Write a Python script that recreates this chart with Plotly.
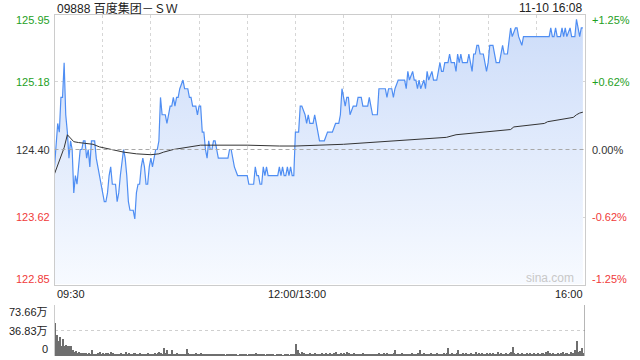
import plotly.graph_objects as go

title_text = "09888 百度集团－ＳＷ"
time_text = "11-10 16:08"
prev_close = 124.40
price_ticks = [125.95, 125.18, 124.40, 123.62, 122.85]
pct_ticks = ["+1.25%", "+0.62%", "0.00%", "-0.62%", "-1.25%"]
tick_colors = ["#1ea01e", "#1ea01e", "#333333", "#f03a3a", "#f03a3a"]
time_ticks = [0, 150, 330]
time_labels = ["09:30", "12:00/13:00", "16:00"]
vol_ticks = [73.66, 36.83, 0]
vol_labels = ["73.66万", "36.83万", "0"]

price_minutes = [0, 1, 2, 3, 4, 5, 6, 7, 8, 9, 10, 11, 12, 13, 14, 15, 16, 17, 18, 19,
                 20, 21, 22, 23, 25, 26, 27, 28, 30, 31, 32, 33, 34, 35, 36, 38, 39, 40, 41, 43,
                 44, 45, 46, 47, 49, 50, 51, 52, 53, 54, 55, 56, 57, 58, 59, 60, 61, 62, 63, 64,
                 65, 66, 67, 69, 70, 71, 72, 73, 74, 75, 76, 77, 78, 80, 81, 83, 84, 85, 86, 88,
                 89, 90, 91, 92, 93, 94, 95, 96, 97, 98, 99, 100, 101, 102, 108, 109, 110, 111, 112, 114,
                 120, 121, 124, 125, 126, 127, 128, 129, 130, 131, 132, 133, 139, 140, 141, 142, 143, 144, 145, 146,
                 147, 148, 149, 150, 152, 153, 154, 156, 157, 158, 159, 161, 162, 163, 164, 165, 168, 170, 173, 175,
                 177, 178, 179, 180, 181, 182, 183, 184, 186, 188, 189, 191, 192, 195, 196, 197, 198, 201, 202, 206,
                 207, 208, 210, 211, 212, 214, 218, 219, 220, 221, 223, 224, 225, 226, 227, 228, 230, 231, 232, 233,
                 235, 236, 238, 239, 240, 241, 242, 243, 245, 246, 247, 249, 250, 251, 252, 253, 254, 257, 258, 259,
                 260, 261, 262, 263, 264, 265, 267, 268, 269, 270, 271, 273, 274, 275, 277, 278, 279, 280, 282, 284,
                 285, 287, 288, 289, 291, 292, 308, 309, 310, 311, 312, 313, 315, 316, 317, 318, 319, 321, 322, 324,
                 325, 326, 327, 328, 329]
price_values = [124.2, 124.5, 124.7, 124.6, 125.0, 125.0, 125.4, 124.8, 124.6, 124.3, 124.5, 124.4, 123.9, 124.1, 124.0, 124.2, 124.4, 124.4, 124.5, 124.5,
                124.3, 124.4, 124.2, 124.5, 124.5, 124.3, 124.2, 124.1, 123.9, 123.8, 123.8, 123.9, 124.1, 124.2, 124.0, 124.0, 123.8, 123.9, 124.1, 124.4,
                124.3, 124.1, 123.8, 123.7, 123.7, 123.6, 123.9, 124.0, 124.0, 124.2, 124.3, 124.2, 124.0, 124.0, 124.2, 124.3, 124.2, 124.3, 124.4, 124.4,
                124.5, 125.0, 124.8, 124.8, 124.7, 124.8, 124.9, 124.9, 125.0, 124.9, 125.0, 125.0, 125.1, 125.2, 125.1, 125.1, 125.0, 125.0, 124.9, 124.9,
                124.8, 124.9, 124.9, 124.6, 124.6, 124.4, 124.3, 124.5, 124.4, 124.4, 124.5, 124.5, 124.4, 124.3, 124.3, 124.4, 124.4, 124.3, 124.2, 124.1,
                124.1, 124.0, 124.0, 124.2, 124.1, 124.1, 124.0, 124.0, 124.2, 124.1, 124.2, 124.1, 124.1, 124.2, 124.1, 124.2, 124.1, 124.1, 124.2, 124.1,
                124.2, 124.1, 124.1, 124.6, 124.6, 124.9, 124.9, 124.8, 124.7, 124.8, 124.7, 124.7, 124.8, 124.7, 124.6, 124.5, 124.5, 124.6, 124.6, 124.7,
                124.7, 124.8, 125.1, 125.0, 124.9, 125.0, 125.0, 124.8, 124.9, 124.9, 125.0, 125.0, 124.9, 124.9, 125.0, 124.9, 124.8, 124.8, 125.1, 125.1,
                125.0, 125.1, 125.1, 125.0, 125.1, 125.2, 125.2, 125.1, 125.3, 125.2, 125.3, 125.2, 125.2, 125.1, 125.2, 125.1, 125.2, 125.1, 125.3, 125.2,
                125.3, 125.2, 125.2, 125.3, 125.4, 125.3, 125.3, 125.4, 125.4, 125.5, 125.4, 125.4, 125.3, 125.5, 125.4, 125.5, 125.4, 125.4, 125.5, 125.4,
                125.3, 125.5, 125.5, 125.6, 125.6, 125.5, 125.5, 125.4, 125.3, 125.4, 125.6, 125.6, 125.5, 125.4, 125.4, 125.5, 125.6, 125.5, 125.5, 125.8,
                125.7, 125.8, 125.8, 125.7, 125.6, 125.7, 125.7, 125.8, 125.7, 125.7, 125.8, 125.7, 125.7, 125.8, 125.7, 125.8, 125.7, 125.8, 125.7, 125.7,
                125.9, 125.8, 125.7, 125.8, 125.8]

avg_minutes = [0, 3, 5, 6, 8, 10, 12, 15, 24, 28, 33, 37, 43, 51, 60, 65, 68, 74, 82, 87,
               91, 100, 120, 140, 150, 180, 203, 223, 244, 250, 269, 284, 286, 305, 307, 323, 325, 327, 329]
avg_values = [124.12, 124.26, 124.37, 124.42, 124.57, 124.53, 124.49, 124.48, 124.46, 124.43, 124.41, 124.39, 124.37, 124.35, 124.34, 124.35, 124.37, 124.40, 124.42, 124.44,
              124.45, 124.45, 124.45, 124.44, 124.44, 124.46, 124.49, 124.52, 124.54, 124.57, 124.60, 124.63, 124.66, 124.70, 124.72, 124.77, 124.80, 124.82, 124.83]

volume = [47, 30, 22, 28, 14, 25, 15, 16, 14, 15,
          15, 8, 6, 7, 5, 6, 5, 4, 5, 4,
          3, 4, 3, 8, 3, 2, 3, 4, 6, 3,
          4, 3, 5, 4, 3, 6, 4, 3, 2, 3,
          2, 4, 3, 2, 6, 3, 4, 2, 3, 5,
          4, 3, 2, 4, 3, 2, 3, 2, 4, 3,
          2, 3, 4, 3, 5, 6, 4, 3, 11, 4,
          9, 3, 2, 8, 3, 2, 4, 3, 2, 3,
          2, 3, 10, 4, 3, 2, 3, 2, 4, 3,
          2, 5, 3, 2, 3, 2, 2, 3, 2, 2,
          3, 2, 2, 3, 2, 2, 1, 2, 3, 2,
          2, 3, 2, 2, 1, 2, 2, 3, 2, 2,
          1, 2, 2, 3, 2, 4, 2, 2, 3, 2,
          2, 1, 2, 2, 3, 2, 2, 1, 2, 2,
          2, 2, 1, 2, 2, 2, 1, 2, 2, 3,
          17, 8, 5, 3, 6, 4, 3, 2, 3, 4,
          2, 3, 4, 2, 3, 2, 4, 3, 2, 5,
          3, 4, 2, 3, 5, 6, 3, 2, 4, 3,
          5, 3, 6, 4, 3, 2, 4, 3, 2, 3,
          2, 3, 4, 2, 3, 2, 3, 2, 2, 3,
          2, 3, 4, 3, 2, 4, 2, 5, 3, 2,
          3, 4, 8, 3, 2, 3, 4, 2, 3, 2,
          3, 2, 4, 2, 3, 2, 5, 9, 3, 2,
          4, 3, 2, 3, 5, 2, 3, 2, 4, 3,
          2, 3, 4, 2, 5, 12, 3, 4, 2, 3,
          4, 8, 3, 2, 5, 3, 4, 2, 3, 4,
          2, 3, 6, 3, 4, 2, 5, 3, 2, 4,
          3, 5, 2, 4, 3, 2, 6, 3, 4, 2,
          3, 5, 2, 4, 6, 13, 5, 3, 4, 2,
          3, 4, 2, 3, 4, 2, 5, 3, 4, 3,
          2, 4, 3, 5, 4, 3, 6, 7, 4, 3,
          4, 3, 2, 5, 3, 4, 6, 3, 5, 4,
          3, 6, 4, 5, 8, 21, 6, 7, 12, 5,
          73.66]
vol_minutes = list(range(len(volume)))

W, H = 640, 360
LEFT, RIGHT = 54.5, 584.5
MAIN_TOP, MAIN_BOT = 14.5, 284.5
VOL_TOP, VOL_BOT = 305.0, 356.0
FONT = "Liberation Sans, Arial, Noto Sans CJK SC, sans-serif"

def fx(px):
    return px / W

def fy(py):
    return 1 - py / H

fig = go.Figure()

# baseline for fill
fig.add_trace(go.Scatter(x=price_minutes, y=[price_ticks[-1]] * len(price_minutes),
                         mode="lines", line=dict(width=0, color="rgba(0,0,0,0)"),
                         hoverinfo="skip", showlegend=False, xaxis="x", yaxis="y"))
fig.add_trace(go.Scatter(x=price_minutes, y=price_values, mode="lines",
                         line=dict(color="#4f8ef3", width=1.2),
                         fill="tonexty",
                         fillgradient=dict(type="vertical", start=price_ticks[-1], stop=price_ticks[0],
                                           colorscale=[[0, "rgb(247,250,255)"], [1, "rgb(204,220,249)"]]),
                         showlegend=False, xaxis="x", yaxis="y"))
fig.add_trace(go.Scatter(x=avg_minutes, y=avg_values, mode="lines",
                         line=dict(color="#333333", width=1),
                         showlegend=False, xaxis="x", yaxis="y"))
fig.add_trace(go.Bar(x=vol_minutes, y=volume, width=0.62,
                     marker=dict(color="#6e6e6e", line=dict(width=0)),
                     showlegend=False, xaxis="x2", yaxis="y3"))

fig.update_layout(
    width=W, height=H, margin=dict(l=0, r=0, t=0, b=0),
    paper_bgcolor="white", plot_bgcolor="white",
    font=dict(family=FONT, size=11, color="#333333"),
    bargap=0,
    xaxis=dict(domain=[fx(LEFT), fx(RIGHT)], range=[0, 330], anchor="y",
               tickvals=list(range(30, 330, 30)), showticklabels=False, ticks="",
               showgrid=True, gridcolor="#d6d6d6", griddash="dot", gridwidth=1,
               showline=True, mirror=True, linecolor="#cccccc", linewidth=1, zeroline=False),
    yaxis=dict(domain=[fy(MAIN_BOT), fy(MAIN_TOP)], range=[price_ticks[-1] - 0.005, price_ticks[0] + 0.005],
               anchor="x", tickvals=[price_ticks[1], price_ticks[3]], showticklabels=False, ticks="",
               showgrid=True, gridcolor="#d6d6d6", griddash="dot", gridwidth=1,
               showline=True, mirror=True, linecolor="#cccccc", linewidth=1, zeroline=False),
    xaxis2=dict(domain=[fx(LEFT), fx(RIGHT)], range=[0, 330], anchor="y3", matches="x",
                showticklabels=False, ticks="", showgrid=False, showline=False, zeroline=False),
    yaxis3=dict(domain=[fy(VOL_BOT), fy(VOL_TOP)], range=[0, vol_ticks[0]], anchor="x2",
                tickvals=[vol_ticks[1], vol_ticks[0]], showticklabels=False, ticks="",
                showgrid=True, gridcolor="#cfcfcf", griddash="dot", gridwidth=1,
                showline=True, linecolor="#cccccc", linewidth=1, zeroline=False),
)

fig.add_shape(type="line", xref="x", yref="y", x0=0, x1=330, y0=prev_close, y1=prev_close,
              line=dict(color="#a8a8a8", width=1, dash="4px,3px"))

ann = []
ann.append(dict(text=title_text, x=fx(55), y=fy(8), xanchor="left", yanchor="middle",
                font=dict(size=12, color="#222222")))
ann.append(dict(text=time_text, x=fx(584), y=fy(8), xanchor="right", yanchor="middle",
                font=dict(size=12, color="#222222")))
label_ys = [20, 82, 149.5, 217, 279]
for v, p, c, py in zip(price_ticks, pct_ticks, tick_colors, label_ys):
    ann.append(dict(text=f"{v:.2f}", x=fx(52), y=fy(py), xanchor="right", yanchor="middle",
                    font=dict(size=11, color=c)))
    ann.append(dict(text=p, x=fx(590), y=fy(py), xanchor="left", yanchor="middle",
                    font=dict(size=11, color=c)))
time_x = [(54.5, "left"), (297, "center"), (585, "right")]
for lbl, (px, anc) in zip(time_labels, time_x):
    ann.append(dict(text=lbl, x=fx(px), y=fy(293.5), xanchor=anc, yanchor="middle",
                    font=dict(size=11, color="#222222")))
vol_label_ys = [312, 330.5, 349]
for lbl, py in zip(vol_labels, vol_label_ys):
    ann.append(dict(text=lbl, x=fx(50), y=fy(py), xanchor="right", yanchor="middle",
                    font=dict(size=11, color="#222222")))
ann.append(dict(text="sina.com", x=fx(576), y=fy(278), xanchor="right", yanchor="middle",
                font=dict(size=12, color="#c8c8c8")))
for a in ann:
    a.update(xref="paper", yref="paper", showarrow=False)
fig.update_layout(annotations=ann)

fig.write_html("out.html")
